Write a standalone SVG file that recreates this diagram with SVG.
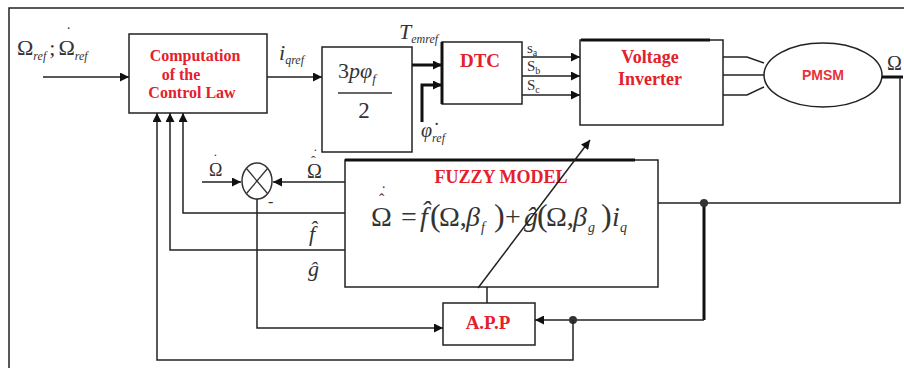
<svg xmlns="http://www.w3.org/2000/svg" width="904" height="368" viewBox="0 0 904 368">
<defs>
<marker id="ah" viewBox="0 0 10 10" refX="10" refY="5" markerWidth="10" markerHeight="9" markerUnits="userSpaceOnUse" orient="auto"><path d="M0,0 L10,5 L0,10 z" fill="#111"/></marker>
</defs>
<style>
.ln{fill:none;stroke:#222;stroke-width:1.5}
.tk{fill:none;stroke:#111;stroke-width:3}
.bx{fill:#fff;stroke:#222;stroke-width:1.5}
.rt{font-family:"Liberation Serif",serif;font-weight:bold;fill:#e3202c;text-anchor:middle}
.m{font-family:"Liberation Serif",serif;fill:#333}
.i{font-style:italic}
.dot{fill:#333}
</style>
<rect x="9" y="8" width="900" height="370" fill="#fff" stroke="#222" stroke-width="1.5"/>

<g id="computation">
  <rect class="bx" x="129" y="34" width="138" height="79"/>
  <text class="rt" x="195" y="61" font-size="16">Computation</text>
  <text class="rt" x="181" y="80" font-size="16">of the</text>
  <text class="rt" x="192" y="98" font-size="16">Control Law</text>
</g>

<g id="gain">
  <rect class="bx" x="322" y="47" width="90" height="105"/>
  <text class="m" x="338" y="78" font-size="22">3<tspan class="i">pφ</tspan><tspan class="i" font-size="13" dy="5">f</tspan></text>
  <line x1="338" y1="93" x2="392" y2="93" stroke="#333" stroke-width="1.5"/>
  <text class="m" x="364" y="118" font-size="23" text-anchor="middle">2</text>
</g>

<g id="dtc">
  <rect class="bx" x="442" y="42" width="80" height="62"/>
  <line class="tk" x1="442" y1="42" x2="442" y2="104"/>
  <text class="rt" x="480" y="67" font-size="19">DTC</text>
</g>

<g id="inverter">
  <rect class="bx" x="580" y="40" width="143" height="85"/>
  <line class="tk" x1="581" y1="40" x2="710" y2="40"/>
  <text class="rt" x="650" y="63" font-size="18">Voltage</text>
  <text class="rt" x="650" y="85" font-size="18">Inverter</text>
</g>

<g id="pmsm">
  <ellipse cx="823" cy="75" rx="59" ry="32" fill="#fff" stroke="#222" stroke-width="1.5"/>
  <text x="823" y="80" font-size="14" font-family="Liberation Sans, sans-serif" font-weight="bold" fill="#e8323c" text-anchor="middle">PMSM</text>
</g>

<g id="fuzzy">
  <rect class="bx" x="345" y="160" width="313" height="127"/>
  <line class="tk" x1="345" y1="160" x2="635" y2="160"/>
  <text class="rt" x="501" y="183" font-size="18">FUZZY MODEL</text>
  <text class="m" font-size="28"><tspan x="371" y="226">Ω</tspan><tspan x="379" y="205" font-size="16">ˆ</tspan><tspan x="381" y="197" font-size="16">˙</tspan><tspan x="401" y="226">=</tspan><tspan x="420" class="i">f̂</tspan><tspan x="430" font-size="32">(</tspan><tspan x="439">Ω,</tspan><tspan x="466" class="i">β</tspan><tspan x="481" y="232" class="i" font-size="14">f</tspan><tspan x="494" y="226" font-size="32">)</tspan><tspan x="505">+</tspan><tspan x="524" class="i">ĝ</tspan><tspan x="537" font-size="32">(</tspan><tspan x="546">Ω,</tspan><tspan x="573" class="i">β</tspan><tspan x="588" y="232" class="i" font-size="14">g</tspan><tspan x="601" y="226" font-size="32">)</tspan><tspan x="612" class="i">i</tspan><tspan x="620" y="232" class="i" font-size="14">q</tspan></text>
</g>

<g id="app">
  <rect class="bx" x="443" y="303" width="92" height="42"/>
  <text class="rt" x="488" y="329" font-size="19">A.P.P</text>
</g>

<g id="sum">
  <ellipse cx="257" cy="181" rx="15" ry="18" fill="#fff" stroke="#333" stroke-width="1.5"/>
  <line x1="246.5" y1="168.5" x2="267.5" y2="193.5" stroke="#333" stroke-width="1.3"/>
  <line x1="267.5" y1="168.5" x2="246.5" y2="193.5" stroke="#333" stroke-width="1.3"/>
</g>

<g id="connectors">
  <line class="ln" x1="43" y1="77" x2="129" y2="77" marker-end="url(#ah)"/>
  <line class="ln" x1="267" y1="77" x2="322" y2="77" marker-end="url(#ah)"/>
  <line class="tk" x1="412" y1="65" x2="442" y2="65" marker-end="url(#ah)"/>
  <polyline class="tk" points="422,122 422,85 442,85" marker-end="url(#ah)"/>
  <line class="ln" x1="522" y1="57" x2="580" y2="57" marker-end="url(#ah)"/>
  <line class="ln" x1="522" y1="76" x2="580" y2="76" marker-end="url(#ah)"/>
  <line class="ln" x1="522" y1="95" x2="580" y2="95" marker-end="url(#ah)"/>
  <polyline class="ln" points="723,57 747,57 764,63"/>
  <line class="ln" x1="723" y1="75" x2="764" y2="75"/>
  <polyline class="ln" points="723,95 747,95 764,87"/>
  <line class="tk" x1="882" y1="77" x2="903" y2="77"/>
  <polyline class="ln" points="900,77 900,203 658,203"/>
  <line class="tk" x1="704" y1="203" x2="704" y2="320"/>
  <circle class="dot" cx="704" cy="203" r="4"/>
  <line class="ln" x1="704" y1="320" x2="535" y2="320" marker-end="url(#ah)"/>
  <circle class="dot" cx="573" cy="320" r="4"/>
  <polyline class="ln" points="573,320 573,360 157,360 157,113" marker-end="url(#ah)"/>
  <polyline class="ln" points="345,250 170,250 170,113" marker-end="url(#ah)"/>
  <polyline class="ln" points="345,213 183,213 183,113" marker-end="url(#ah)"/>
  <line class="ln" x1="345" y1="182" x2="273" y2="182" marker-end="url(#ah)"/>
  <line class="ln" x1="202" y1="182" x2="241" y2="182" marker-end="url(#ah)"/>
  <polyline class="ln" points="257,199 257,328 443,328" marker-end="url(#ah)"/>
  <line class="ln" x1="487" y1="287" x2="487" y2="303"/>
  <line class="ln" x1="478" y1="288" x2="590" y2="140" marker-end="url(#ah)"/>
</g>

<g id="labels" class="m">
  <text font-size="22"><tspan x="17" y="55">Ω</tspan><tspan class="i" font-size="12" y="60">ref</tspan><tspan y="55" dx="3">;</tspan><tspan dx="3">Ω</tspan><tspan class="i" font-size="12" y="60">ref</tspan><tspan x="66" y="38" font-size="16">˙</tspan></text>
  <text x="279" y="60" font-size="22" class="i">i<tspan font-size="12" dy="4">qref</tspan></text>
  <text x="399" y="39" font-size="22" class="i">T<tspan font-size="12" dy="4">emref</tspan></text>
  <text x="421" y="137" font-size="20" class="i">φ̇<tspan font-size="12" dy="5">ref</tspan></text>
  <text x="527" y="53" font-size="15">s<tspan font-size="10" dy="3">a</tspan></text>
  <text x="527" y="71" font-size="15">S<tspan font-size="10" dy="3">b</tspan></text>
  <text x="527" y="90" font-size="15">S<tspan font-size="10" dy="3">c</tspan></text>
  <text x="887" y="70" font-size="20">Ω</text>
  <text font-size="18"><tspan x="209" y="176">Ω</tspan><tspan x="213" y="164" font-size="14">˙</tspan></text>
  <text font-size="20"><tspan x="307" y="178">Ω</tspan><tspan x="311" y="166" font-size="14">ˆ</tspan><tspan x="313" y="159" font-size="14">˙</tspan></text>
  <text x="268" y="207" font-size="16">-</text>
  <text x="309" y="241" font-size="22" class="i">f̂</text>
  <text x="308" y="276" font-size="22" class="i">ĝ</text>
</g>
</svg>
